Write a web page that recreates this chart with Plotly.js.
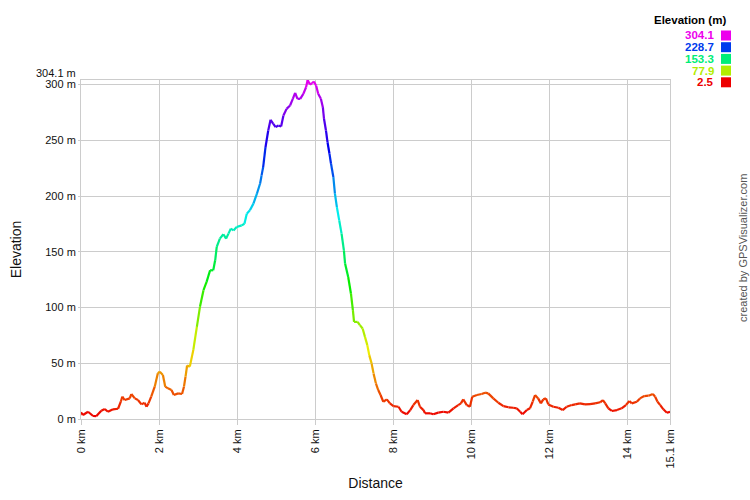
<!DOCTYPE html>
<html>
<head>
<meta charset="utf-8">
<script src="https://cdn.plot.ly/plotly-3.0.1.min.js"></script>
<style>html,body{margin:0;padding:0;background:#fff;}#chart{width:750px;height:500px;}</style>
</head>
<body>
<div id="chart"></div>
<script>
const distanceKm = [0, 0.05, 0.18, 0.31, 0.39, 0.52, 0.61, 0.69, 0.82, 0.95, 1.02, 1.06, 1.12, 1.25, 1.29, 1.38, 1.46, 1.55, 1.63, 1.68, 1.73, 1.80, 1.89, 1.97, 2.02, 2.10, 2.16, 2.23, 2.32, 2.38, 2.49, 2.59, 2.64, 2.68, 2.72, 2.79, 2.88, 2.97, 3.05, 3.14, 3.22, 3.31, 3.39, 3.44, 3.48, 3.56, 3.65, 3.72, 3.78, 3.84, 3.91, 3.99, 4.12, 4.19, 4.25, 4.33, 4.42, 4.51, 4.59, 4.63, 4.67, 4.73, 4.80, 4.86, 4.93, 4.99, 5.06, 5.13, 5.19, 5.27, 5.36, 5.43, 5.49, 5.55, 5.62, 5.70, 5.77, 5.81, 5.87, 5.92, 5.97, 6.03, 6.08, 6.15, 6.20, 6.23, 6.28, 6.32, 6.37, 6.41, 6.47, 6.51, 6.56, 6.62, 6.68, 6.74, 6.77, 6.85, 6.92, 6.97, 7.00, 7.09, 7.15, 7.22, 7.28, 7.34, 7.39, 7.45, 7.50, 7.56, 7.62, 7.68, 7.75, 7.84, 7.92, 8.01, 8.14, 8.22, 8.35, 8.44, 8.52, 8.63, 8.69, 8.78, 8.82, 8.95, 9.03, 9.16, 9.29, 9.42, 9.55, 9.67, 9.74, 9.80, 9.89, 9.97, 10.03, 10.15, 10.27, 10.36, 10.44, 10.57, 10.70, 10.83, 10.96, 11.08, 11.17, 11.26, 11.32, 11.43, 11.51, 11.58, 11.64, 11.72, 11.79, 11.85, 11.92, 11.98, 12.11, 12.24, 12.35, 12.45, 12.58, 12.67, 12.79, 12.92, 13.05, 13.18, 13.31, 13.38, 13.44, 13.52, 13.61, 13.74, 13.86, 13.97, 14.06, 14.12, 14.25, 14.33, 14.44, 14.55, 14.66, 14.72, 14.78, 14.85, 14.93, 15.02, 15.10];
const elevationM = [6, 3.6, 6.5, 2.7, 2.5, 7.4, 9, 6.5, 8.7, 9.2, 15.5, 20, 17, 18.5, 22.4, 18.5, 17, 13.1, 14.6, 11, 14, 20, 29, 41, 42.4, 39.4, 29, 27.5, 26, 21.5, 23, 22.4, 29, 38, 48, 47, 62, 82.7, 100.6, 115.5, 123, 133.4, 133.4, 142.4, 154.3, 161.8, 165.7, 161.8, 166.3, 170.8, 169.2, 172.2, 173.7, 175.2, 184.2, 187.2, 193.2, 202.1, 211, 218.5, 226, 243.8, 258.8, 268.4, 264.8, 261.8, 263.3, 262.4, 272.2, 278.2, 281.2, 287.2, 292.6, 287.2, 287.2, 291.7, 297.6, 304.1, 300, 301.2, 302.7, 299, 291.7, 287.2, 279.7, 269.3, 258.8, 248.3, 237.9, 229, 217, 202.1, 190.1, 178.2, 166.3, 151.3, 139.4, 127.4, 112.6, 97.6, 87.1, 87.1, 84.2, 81.2, 73.7, 66.3, 57.3, 49.9, 40.9, 32, 26, 21.5, 15.5, 17.6, 14, 11.6, 11, 6.5, 4.2, 8, 12.5, 17, 11, 8, 5.1, 5.1, 4.2, 5.7, 6.5, 5.7, 9.6, 12.5, 14, 17.6, 12.5, 11, 20, 21.5, 22.4, 23.6, 23, 18.5, 14.6, 11.6, 10.5, 10.1, 9.6, 6.5, 4.2, 8, 9.6, 15.5, 21.5, 18.5, 14, 17.6, 18.5, 13.1, 11, 10.1, 8, 11, 12.5, 13.1, 14, 13.1, 13.4, 14, 15, 17, 14, 9.6, 7.2, 8, 9.6, 12.5, 16.1, 14, 15.5, 18.5, 20.6, 20.9, 22.4, 20, 15.5, 12.5, 8.7, 5.6, 6.5];

const xTickVals = [0, 2, 4, 6, 8, 10, 12, 14, 15.1];
const xTickText = ["0 km", "2 km", "4 km", "6 km", "8 km", "10 km", "12 km", "14 km", "15.1 km"];
const yTickVals = [0, 50, 100, 150, 200, 250, 300];
const yTickText = ["0 m", "50 m", "100 m", "150 m", "200 m", "250 m", "300 m"];
const legendValues = [304.1, 228.7, 153.3, 77.9, 2.5];
const elevMin = 2.5, elevMax = 304.1, distMax = 15.1;

function colorFor(m) {
  let t = (m - elevMin) / (elevMax - elevMin);
  t = Math.max(0, Math.min(1, t));
  const h = 300 * t, s = 1, v = 0.93;
  const c = v * s, hp = h / 60, x = c * (1 - Math.abs(hp % 2 - 1));
  let r = 0, g = 0, b = 0;
  if (hp < 1) { r = c; g = x; }
  else if (hp < 2) { r = x; g = c; }
  else if (hp < 3) { g = c; b = x; }
  else if (hp < 4) { g = x; b = c; }
  else if (hp < 5) { r = x; b = c; }
  else { r = c; b = x; }
  const f = n => Math.round((n + (v - c)) * 255);
  return `rgb(${f(r)},${f(g)},${f(b)})`;
}

// Group consecutive segments into colour bins
const NB = 120;
const bins = {};
for (let i = 0; i < distanceKm.length - 1; i++) {
  const mid = (elevationM[i] + elevationM[i + 1]) / 2;
  const k = Math.round((mid - elevMin) / (elevMax - elevMin) * NB);
  if (!bins[k]) bins[k] = { x: [], y: [] };
  bins[k].x.push(distanceKm[i], distanceKm[i + 1], null);
  bins[k].y.push(elevationM[i], elevationM[i + 1], null);
}
const traces = Object.keys(bins).map(k => ({
  type: 'scatter', mode: 'lines',
  x: bins[k].x, y: bins[k].y,
  line: { color: colorFor(elevMin + (elevMax - elevMin) * k / NB), width: 2.2 },
  connectgaps: false, hoverinfo: 'skip', showlegend: false
}));

const W = 750, H = 500, L = 81, R = 80, T = 80, B = 81;
const pw = W - L - R, ph = H - T - B;
const px = x => (x - L) / pw;
const py = y => (H - B - y) / ph;

const font = "Liberation Sans, Arial, sans-serif";
const annotations = [
  { xref: 'paper', yref: 'paper', x: px(728), y: py(20), xanchor: 'right', yanchor: 'middle',
    text: '<b>Elevation (m)</b>', showarrow: false, font: { family: font, size: 11.5, color: '#000' } },
  { xref: 'paper', yref: 'paper', x: px(77.5), y: py(73), xanchor: 'right', yanchor: 'middle',
    text: elevMax.toFixed(1) + ' m', showarrow: false, font: { family: font, size: 11, color: '#111' } },
  { xref: 'paper', yref: 'paper', x: px(743), y: py(248), xanchor: 'center', yanchor: 'middle', textangle: -90,
    text: 'created by GPSVisualizer.com', showarrow: false, font: { family: font, size: 11, color: '#555' } }
];
const shapes = [];
legendValues.forEach((v, i) => {
  const cy = 35.5 + i * 11.7;
  annotations.push({ xref: 'paper', yref: 'paper', x: px(716), y: py(cy), xanchor: 'right', yanchor: 'middle',
    text: '<b>' + v.toFixed(1) + '</b>', showarrow: false, font: { family: font, size: 11.5, color: colorFor(v) } });
  shapes.push({ type: 'rect', xref: 'paper', yref: 'paper', x0: px(721), x1: px(731), y0: py(cy - 5), y1: py(cy + 5),
    fillcolor: colorFor(v), line: { width: 0 } });
});

const layout = {
  width: W, height: H,
  margin: { l: L, r: R, t: T, b: B, pad: 0 },
  paper_bgcolor: '#fff', plot_bgcolor: '#fff',
  showlegend: false, hovermode: false,
  font: { family: font, size: 11, color: '#111' },
  xaxis: {
    range: [0, distMax], tickvals: xTickVals, ticktext: xTickText, tickangle: -90,
    showgrid: true, gridcolor: '#cccccc', gridwidth: 1, zeroline: false,
    showline: true, linecolor: '#cccccc', linewidth: 1, mirror: true,
    ticks: 'outside', ticklen: 5, tickcolor: '#cccccc',
    tickfont: { family: font, size: 11, color: '#111' },
    title: { text: 'Distance', font: { family: font, size: 14, color: '#111' }, standoff: 10 },
    automargin: false, fixedrange: true
  },
  yaxis: {
    range: [0, elevMax], tickvals: yTickVals, ticktext: yTickText,
    showgrid: true, gridcolor: '#cccccc', gridwidth: 1, zeroline: false,
    showline: true, linecolor: '#cccccc', linewidth: 1, mirror: true,
    ticks: 'outside', ticklen: 2, tickcolor: '#cccccc',
    tickfont: { family: font, size: 11, color: '#111' },
    title: { text: 'Elevation', font: { family: font, size: 14, color: '#111' }, standoff: 20 },
    automargin: false, fixedrange: true
  },
  annotations: annotations,
  shapes: shapes
};

Plotly.newPlot('chart', traces, layout, { displayModeBar: false, staticPlot: true });
</script>
</body>
</html>
